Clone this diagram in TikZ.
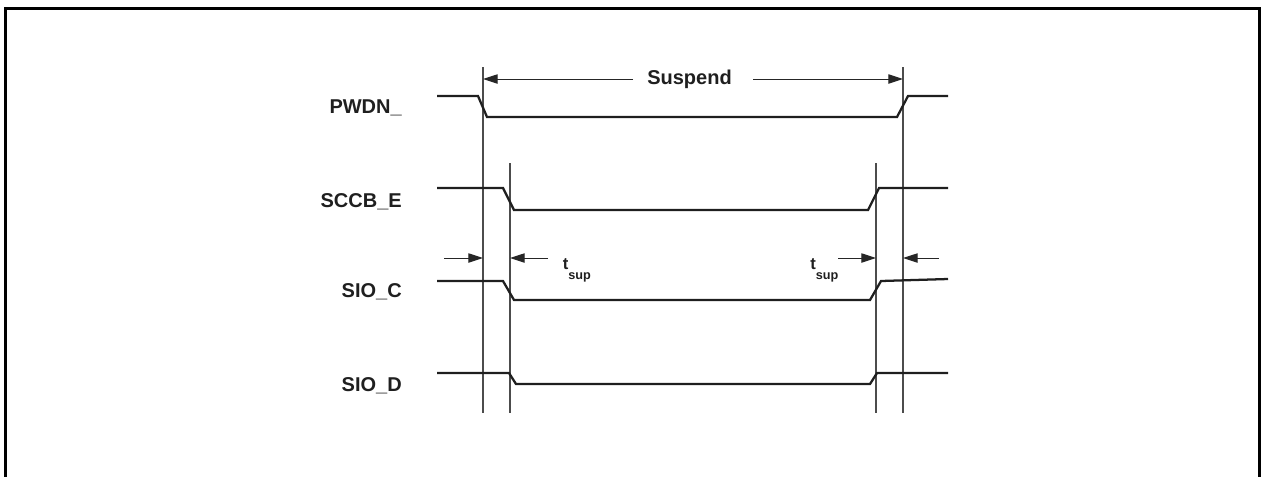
\documentclass[tikz,border=0pt]{standalone}
\usepackage{fontspec}
\setmainfont{Liberation Sans}
\usetikzlibrary{arrows.meta}

\begin{document}
\begin{tikzpicture}[x=0.75pt,y=-0.75pt]
\colorlet{wave_color}{black!88}
\colorlet{marker_color}{black!70}
\tikzset{
  signal/.style={draw=wave_color,line width=1.7pt,line join=miter},
  marker/.style={draw=marker_color,line width=0.8pt},
  dimarrow/.style={draw=black!85,line width=0.75pt,-{Triangle[length=11pt,width=7pt]}},
  siglabel/.style={anchor=base east,inner sep=0pt,text=black!88,font=\bfseries\fontsize{15}{18}\selectfont},
  tlabel/.style={anchor=base west,inner sep=0pt,text=black!88,font=\bfseries\fontsize{12.5}{14}\selectfont}
}
\useasboundingbox (0,0) rectangle (1262,476);

% outer frame
\draw[line width=2.25pt] (5.3,490) -- (5.3,8.7) -- (1259,8.7) -- (1259,490);

% signal names
\foreach \name/\txt/\y in {pwdn/PWDN\_/113.3,sccb/SCCB\_E/207.3,sioc/SIO\_C/297.7,siod/SIO\_D/391}{
\node[siglabel] (\name) at (402,\y) {\txt};
}

% marker lines
\foreach \m/\x/\top in {ma/483/67,mb/510/163,mc/876/163,md/903/67}{
\coordinate (\m top) at (\x,\top);
\coordinate (\m bot) at (\x,413);
\draw[marker] (\m top) -- (\m bot);
}

% waveforms
\draw[signal] (437,96) -- (478,96) -- (487,117) -- (897,117) -- (908,96) -- (948,96);
\draw[signal] (437,188) -- (503,188) -- (514,210) -- (868,210) -- (879,188) -- (948,188);
\draw[signal] (437,281) -- (503,281) -- (514,300) -- (870,300) -- (881,281) -- (948,279);
\draw[signal] (437,373) -- (509,373) -- (516,384) -- (870,384) -- (877,373) -- (948,373);

% suspend interval
\node[inner sep=0pt,text=black!88,font=\bfseries\fontsize{15}{18}\selectfont] (suspend) at (689.5,79) {Suspend};
\coordinate (susL) at (633,79);
\coordinate (susR) at (753,79);
\draw[dimarrow] (susL) -- (matop |- susL);
\draw[dimarrow] (susR) -- (mdtop |- susR);

% setup times
\coordinate (tsa) at (444,258);
\coordinate (tsb) at (548,258);
\coordinate (tsc) at (838,258);
\coordinate (tsd) at (939,258);
\draw[dimarrow] (tsa) -- (matop |- tsa);
\draw[dimarrow] (tsb) -- (mbtop |- tsb);
\draw[dimarrow] (tsc) -- (mctop |- tsc);
\draw[dimarrow] (tsd) -- (mdtop |- tsd);
\node[tlabel] (tsupL) at (562.5,269) {t\raisebox{-7.5pt}{\fontsize{9.5}{9.5}\selectfont sup}};
\node[tlabel] (tsupR) at (810,269) {t\raisebox{-7.5pt}{\fontsize{9.5}{9.5}\selectfont sup}};
\end{tikzpicture}
\end{document}
